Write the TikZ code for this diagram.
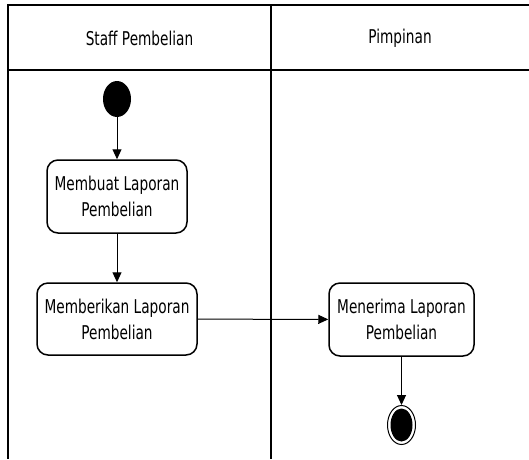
\documentclass[tikz,border=0pt]{standalone}
\usepackage{fontspec}
\setmainfont{DejaVu Sans}[FakeStretch=0.72]
\usetikzlibrary{arrows.meta,positioning,shapes.geometric}

\begin{document}
\begin{tikzpicture}[x=1pt,y=-1pt,>={Triangle[length=10pt,width=9pt]}, every node/.style={font=\fontsize{19}{26}\selectfont}]
\useasboundingbox (0,0) rectangle (529,459);
% swimlanes
\draw[line width=1.5pt] (529,5) -- (8,5) -- (8,459);
\draw[line width=1.5pt] (8,70) -- (529,70);
\draw[line width=1.5pt] (271,5) -- (271,459);
\node (lane1) at (139.5,38) {Staff Pembelian};
\node (lane2) at (400,38) {Pimpinan};
% activities
\node[ellipse,fill=black,minimum width=28pt,minimum height=36pt,inner sep=0pt] (start) at (117,99) {};
\node[draw,line width=1.5pt,rounded corners=11pt,minimum width=140pt,minimum height=73pt,align=center] (buat) at (117,196.5) {Membuat Laporan\\Pembelian};
\node[draw,line width=1.5pt,rounded corners=11pt,minimum width=160pt,minimum height=72pt,align=center] (beri) at (117,319) {Memberikan Laporan\\Pembelian};
\node[draw,line width=1.5pt,rounded corners=11pt,minimum width=145pt,minimum height=73pt,align=center] (terima) at (401.5,319.5) {Menerima Laporan\\Pembelian};
\node[ellipse,draw,line width=1pt,minimum width=28pt,minimum height=39pt,inner sep=0pt] (end) at (401.5,425) {};
\node[ellipse,fill=black,minimum width=22pt,minimum height=33pt,inner sep=0pt] (endin) at (end.center) {};
\draw[->,line width=1pt] (start) -- (buat);
\draw[->,line width=1pt] (buat) -- (beri);
\draw[->,line width=1pt] (beri) -- (terima);
\draw[->,line width=1pt] (terima) -- (end);
\end{tikzpicture}
\end{document}
